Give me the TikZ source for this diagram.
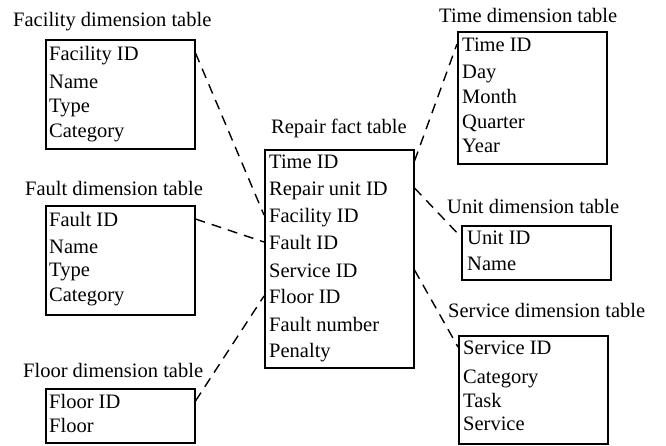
\documentclass[tikz,border=0pt]{standalone}
\usepackage{fontspec}
\setmainfont{Liberation Serif}
\tikzset{
  tbl/.style={draw, line width=1.5pt, anchor=north west, minimum width=149pt, inner sep=0pt},
  fld/.style={anchor=base west, inner sep=0pt, text height=14pt, text depth=0pt},
  ttl/.style={anchor=base west, inner sep=0pt},
  link/.style={line width=1.4pt, dash pattern=on 10pt off 7pt}
}
\begin{document}
\begin{tikzpicture}[x=1pt, y=-1pt, font=\rmfamily\fontsize{20.5}{24}\selectfont]
\useasboundingbox (0,0) rectangle (666,445);
%FACILITY
  \node (facT) at (13,26) [ttl] {Facility dimension table};
  \node (facB) at (45,39) [tbl, minimum height=109pt] {};
  \foreach \t/\y [count=\i] in {Facility ID/60, Name/88, Type/112, Category/137}
    \node (fac\i) at (49,\y) [fld] {\t};
%FAULT
  \node (fltT) at (25,195) [ttl] {Fault dimension table};
  \node (fltB) at (45,205) [tbl, minimum height=109pt] {};
  \foreach \t/\y [count=\i] in {Fault ID/226, Name/253, Type/276, Category/301}
    \node (flt\i) at (49,\y) [fld] {\t};
%FLOOR
  \node (flrT) at (23,377) [ttl] {Floor dimension table};
  \node (flrB) at (45,388) [tbl, minimum height=54pt] {};
  \foreach \t/\y [count=\i] in {Floor ID/408, Floor/432}
    \node (flr\i) at (49,\y) [fld] {\t};
%FACT
  \node (fctT) at (271,133) [ttl] {Repair fact table};
  \node (fctB) at (264,149) [tbl, minimum height=218pt] {};
  \foreach \t/\y [count=\i] in {Time ID/168, Repair unit ID/195, Facility ID/222, Fault ID/249,
      Service ID/277, Floor ID/303, Fault number/331, Penalty/357}
    \node (fct\i) at (269,\y) [fld] {\t};
%TIME
  \node (timT) at (439,22) [ttl] {Time dimension table};
  \node (timB) at (457,31) [tbl, minimum height=132pt] {};
  \foreach \t/\y [count=\i] in {Time ID/51, Day/78, Month/103, Quarter/128, Year/152}
    \node (tim\i) at (462,\y) [fld] {\t};
%UNIT
  \node (uniT) at (447,213) [ttl] {Unit dimension table};
  \node (uniB) at (461,225) [tbl, minimum height=54pt] {};
  \foreach \t/\y [count=\i] in {Unit ID/244, Name/270}
    \node (uni\i) at (467,\y) [fld] {\t};
%SERVICE
  \node (srvT) at (448,317) [ttl] {Service dimension table};
  \node (srvB) at (458,335) [tbl, minimum height=108pt] {};
  \foreach \t/\y [count=\i] in {Service ID/354, Category/383, Task/407, Service/430}
    \node (srv\i) at (463,\y) [fld] {\t};

%LINKS
  \draw[link] (fac1.center -| facB.east) -- (fct3.center -| fctB.west);
  \draw[link] (flt1.center -| fltB.east) -- (fct4.center -| fctB.west);
  \draw[link] (flr1.center -| flrB.east) -- (fct6.center -| fctB.west);
  \draw[link] (fct1.center -| fctB.east) -- (tim1.center -| timB.west);
  \draw[link] (fct2.center -| fctB.east) -- (uni1.center -| uniB.west);
  \draw[link] (fct5.center -| fctB.east) -- (srv1.center -| srvB.west);
\end{tikzpicture}
\end{document}
